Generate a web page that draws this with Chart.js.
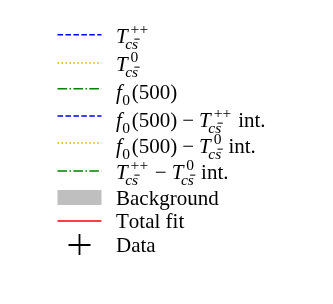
<!DOCTYPE html>
<html>
<head>
<meta charset="utf-8">
<script src="https://cdn.jsdelivr.net/npm/chart.js@4.4.1/dist/chart.umd.min.js"></script>
<style>
  html, body { margin: 0; padding: 0; background: #fff; }
  #wrap { width: 333px; height: 304px; }
</style>
</head>
<body>
<div id="wrap"><canvas id="chart" width="333" height="304"></canvas></div>
<script>
// legend entries (mathtext-ish: $...$ is math, _{} sub, ^{} sup, \bar{})
const legendLabels = [
  "$T_{c\\bar{s}}^{++}$",
  "$T_{c\\bar{s}}^{0}$",
  "$f_{0}(500)$",
  "$f_{0}(500) - T_{c\\bar{s}}^{++}$ int.",
  "$f_{0}(500) - T_{c\\bar{s}}^{0}$ int.",
  "$T_{c\\bar{s}}^{++} - T_{c\\bar{s}}^{0}$ int.",
  "Background",
  "Total fit",
  "Data",
];
// the plot itself is empty in the reference, only the legend is shown
const xValues = [];
const yValues = [];

const FONT = "'Liberation Serif', 'DejaVu Serif', serif";

// style per entry
const styles = [
  { type: "line", color: "blue", dash: [5.55, 2.4] },
  { type: "line", color: "orange", dash: [1.5, 2.475] },
  { type: "line", color: "green", dash: [9.6, 2.4, 1.5, 2.4] },
  { type: "line", color: "blue", dash: [5.55, 2.4] },
  { type: "line", color: "orange", dash: [1.5, 2.475] },
  { type: "line", color: "green", dash: [9.6, 2.4, 1.5, 2.4] },
  { type: "bar", color: "#bfbfbf", dash: [] },
  { type: "line", color: "red", dash: [] },
  { type: "scatter", color: "black", dash: [] },
];

// parse the small math markup into a list of atoms
function parse(src, mathStart) {
  const items = [];
  let math = !!mathStart;
  let i = 0;
  const readGroup = () => {
    if (src[i] === "{") {
      let depth = 1, j = i + 1;
      while (j < src.length && depth > 0) {
        if (src[j] === "{") depth++;
        else if (src[j] === "}") depth--;
        j++;
      }
      const g = src.slice(i + 1, j - 1);
      i = j;
      return g;
    }
    return src[i++];
  };
  while (i < src.length) {
    const c = src[i];
    if (c === "$") { math = !math; i++; continue; }
    if (!math) { items.push({ t: c, it: false }); i++; continue; }
    if (c === " ") { i++; continue; }
    if (c === "_" || c === "^") {
      i++;
      const g = parse(readGroup(), true);
      const last = items[items.length - 1];
      if (c === "_") last.sub = g; else last.sup = g;
      continue;
    }
    if (c === "\\") {
      let j = i + 1;
      while (j < src.length && /[a-z]/i.test(src[j])) j++;
      const cmd = src.slice(i + 1, j);
      i = j;
      const g = readGroup();
      if (cmd === "bar") items.push({ t: g, it: true, bar: true });
      continue;
    }
    if (c === "-") { items.push({ t: "\u2212", it: false, pad: 0.24 }); i++; continue; }
    items.push({ t: c, it: /[a-zA-Z]/.test(c) });
    i++;
  }
  return items;
}

// draw atoms at (x, baseline), returns advance width
function drawAtoms(ctx, items, x, y, size) {
  let cx = x;
  items.forEach((a) => {
    ctx.font = (a.it ? "italic " : "") + size + "px " + FONT;
    const w = ctx.measureText(a.t).width;
    if (a.pad) cx += a.pad * size;
    ctx.fillText(a.t, cx, y);
    if (a.bar) {
      ctx.fillRect(cx + 0.15 * size, y - 0.66 * size, w - 0.05 * size, Math.max(1, 0.05 * size));
    }
    cx += w;
    if (a.pad) cx += a.pad * size;
    if (a.sub || a.sup) {
      const s = size * 0.74;
      const upper = /[A-Z]/.test(a.t);
      const subDx = upper ? -0.12 : 0.02;
      const supDx = upper ? 0.14 : 0.04;
      let ws = 0, wp = 0;
      if (a.sub) ws = drawAtoms(ctx, a.sub, cx + subDx * size, y + 0.28 * size, s) + subDx * size;
      if (a.sup) wp = drawAtoms(ctx, a.sup, cx + supDx * size, y - 0.44 * size, s) + supDx * size;
      cx += Math.max(ws, wp) + 0.08 * size;
    }
  });
  return cx - x;
}

const legendLayout = {
  x0: 57.5, x1: 101.5, textX: 116,
  handleY: [34.7, 63, 88.7, 116, 143, 171, 197.5, 221, 245],
  baseY: [43, 71, 99, 127, 153, 179, 205, 228, 252],
};

const mathLegend = {
  id: "mathLegend",
  afterDraw(chart) {
    const ctx = chart.ctx;
    const L = legendLayout;
    ctx.save();
    chart.data.datasets.forEach((ds, k) => {
      const hy = L.handleY[k];
      if (ds.type === "bar") {
        ctx.fillStyle = ds.backgroundColor;
        ctx.fillRect(L.x0, hy - 7.5, L.x1 - L.x0, 15);
      } else if (ds.type === "scatter") {
        ctx.strokeStyle = ds.borderColor;
        ctx.lineWidth = 1.8;
        ctx.setLineDash([]);
        const cx = (L.x0 + L.x1) / 2;
        ctx.beginPath();
        ctx.moveTo(cx - 11, hy); ctx.lineTo(cx + 11, hy);
        ctx.moveTo(cx, hy - 11); ctx.lineTo(cx, hy + 10);
        ctx.stroke();
      } else {
        ctx.strokeStyle = ds.borderColor;
        ctx.lineWidth = 1.5;
        ctx.lineCap = "butt";
        ctx.setLineDash(ds.borderDash || []);
        ctx.beginPath();
        ctx.moveTo(L.x0, hy); ctx.lineTo(L.x1, hy);
        ctx.stroke();
        ctx.setLineDash([]);
      }
      ctx.fillStyle = "#000";
      ctx.textBaseline = "alphabetic";
      ctx.textAlign = "left";
      drawAtoms(ctx, parse(ds.label, false), L.textX, L.baseY[k], 21);
    });
    ctx.restore();
  },
};

new Chart(document.getElementById("chart"), {
  type: "line",
  data: {
    labels: xValues,
    datasets: legendLabels.map((lab, k) => ({
      type: styles[k].type,
      label: lab,
      data: yValues,
      borderColor: styles[k].color,
      backgroundColor: styles[k].color,
      borderDash: styles[k].dash,
      borderWidth: 1.5,
      pointStyle: styles[k].type === "scatter" ? "cross" : false,
    })),
  },
  options: {
    responsive: false,
    animation: false,
    devicePixelRatio: 1,
    layout: { padding: 0 },
    plugins: { legend: { display: false }, tooltip: { enabled: false } },
    scales: { x: { display: false }, y: { display: false } },
  },
  plugins: [mathLegend],
});
</script>
</body>
</html>
